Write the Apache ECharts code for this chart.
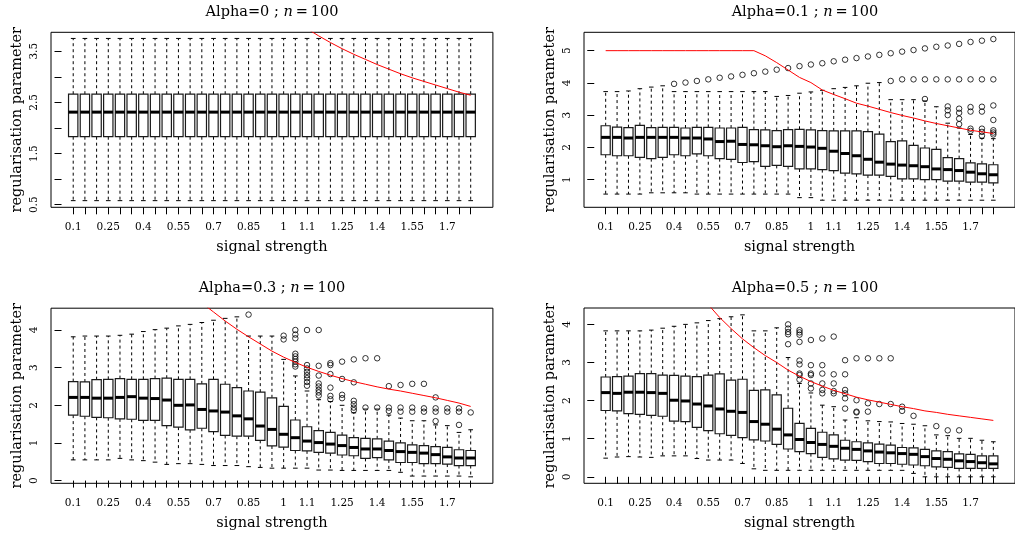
<!DOCTYPE html>
<html>
<head>
<meta charset="utf-8">
<script src="https://cdn.jsdelivr.net/npm/echarts@6/dist/echarts.min.js"></script>
<style>
  html, body { margin: 0; padding: 0; background: #fff; }
  #chart { width: 1015px; height: 540px; }
</style>
</head>
<body>
<div id="chart"></div>
<script>
// ---- data -------------------------------------------------------------
const signal = ['0.1','0.15','0.2','0.25','0.3','0.35','0.4','0.45','0.5','0.55','0.6','0.65','0.7','0.75','0.8','0.85','0.9','0.95','1','1.05','1.1','1.15','1.2','1.25','1.3','1.35','1.4','1.45','1.5','1.55','1.6','1.65','1.7','1.75','1.8'];
// positions (1-based) whose signal value is printed under the axis
const labelledTicks = [1, 4, 7, 10, 13, 16, 19, 21, 24, 27, 30, 33];
const alphas = ['0', '0.1', '0.3', '0.5'];
const sampleSize = '100';

// Alpha = 0
const aLow = [0.58,0.58,0.58,0.58,0.58,0.58,0.58,0.58,0.58,0.58,0.58,0.58,0.58,0.58,0.58,0.58,0.58,0.58,0.58,0.58,0.58,0.58,0.58,0.58,0.58,0.58,0.58,0.58,0.58,0.58,0.58,0.58,0.58,0.58,0.58];
const aQ1  = [1.83,1.83,1.83,1.83,1.83,1.83,1.83,1.83,1.83,1.83,1.83,1.83,1.83,1.83,1.83,1.83,1.83,1.83,1.83,1.83,1.83,1.83,1.83,1.83,1.83,1.83,1.83,1.83,1.83,1.83,1.83,1.83,1.83,1.83,1.83];
const aMed = [2.31,2.31,2.31,2.31,2.31,2.31,2.31,2.31,2.31,2.31,2.31,2.31,2.31,2.31,2.31,2.31,2.31,2.31,2.31,2.31,2.31,2.31,2.31,2.31,2.31,2.31,2.31,2.31,2.31,2.31,2.31,2.31,2.31,2.31,2.31];
const aQ3  = [2.66,2.66,2.66,2.66,2.66,2.66,2.66,2.66,2.66,2.66,2.66,2.66,2.66,2.66,2.66,2.66,2.66,2.66,2.66,2.66,2.66,2.66,2.66,2.66,2.66,2.66,2.66,2.66,2.66,2.66,2.66,2.66,2.66,2.66,2.66];
const aHigh = [3.75,3.75,3.75,3.75,3.75,3.75,3.75,3.75,3.75,3.75,3.75,3.75,3.75,3.75,3.75,3.75,3.75,3.75,3.75,3.75,3.75,3.75,3.75,3.75,3.75,3.75,3.75,3.75,3.75,3.75,3.75,3.75,3.75,3.75,3.75];
const aOutliers = [];
const aCurve = [null,null,null,null,null,null,null,null,null,null,null,null,null,null,null,null,null,null,null,null,3.94,3.80,3.67,3.55,3.44,3.34,3.24,3.15,3.06,2.98,2.91,2.84,2.77,2.70,2.64];

// Alpha = 0.1
const bLow = [0.55,0.55,0.55,0.55,0.59,0.59,0.59,0.59,0.55,0.55,0.55,0.55,0.55,0.55,0.55,0.55,0.55,0.44,0.44,0.36,0.36,0.36,0.36,0.36,0.36,0.36,0.36,0.36,0.36,0.36,0.36,0.36,0.36,0.36,0.36];
const bQ1  = [1.77,1.74,1.74,1.69,1.65,1.69,1.77,1.74,1.80,1.74,1.65,1.63,1.53,1.56,1.41,1.44,1.41,1.33,1.33,1.31,1.28,1.20,1.18,1.14,1.14,1.10,1.02,1.02,1.00,1.00,0.95,0.95,0.92,0.92,0.90];
const bMed = [2.31,2.31,2.29,2.31,2.31,2.31,2.31,2.29,2.29,2.26,2.18,2.19,2.09,2.08,2.05,2.02,2.05,2.03,2.01,1.97,1.88,1.81,1.74,1.63,1.54,1.48,1.45,1.43,1.40,1.33,1.31,1.28,1.23,1.18,1.15];
const bQ3  = [2.67,2.63,2.61,2.68,2.61,2.62,2.62,2.60,2.62,2.62,2.60,2.60,2.62,2.55,2.54,2.52,2.55,2.56,2.54,2.52,2.51,2.51,2.51,2.49,2.41,2.18,2.20,2.06,1.98,1.94,1.68,1.65,1.52,1.49,1.46];
const bHigh = [3.73,3.73,3.75,3.82,3.87,3.91,3.73,3.73,3.73,3.73,3.73,3.73,3.73,3.73,3.73,3.58,3.61,3.68,3.72,3.77,3.82,3.86,3.91,3.99,4.01,3.48,3.48,3.48,3.44,3.26,2.75,2.60,2.40,2.28,2.27];
const bOutliers = [
  [7,3.97],[8,4.01],[9,4.06],[10,4.11],[11,4.16],[12,4.20],[13,4.25],[14,4.30],[15,4.35],[16,4.41],
  [17,4.46],[18,4.52],[19,4.57],[20,4.61],[21,4.67],[22,4.72],[23,4.77],[24,4.82],[25,4.87],[26,4.92],
  [27,4.97],[28,5.02],[29,5.07],[30,5.12],[31,5.16],[32,5.21],[33,5.27],[34,5.31],[35,5.36],
  [26,4.06],[27,4.11],[28,4.11],[29,4.11],[30,4.11],[31,4.11],[32,4.11],[33,4.11],[34,4.11],[35,4.11],
  [29,3.50],[31,3.27],[31,3.15],[31,3.00],[32,3.20],[32,3.07],[32,2.89],[32,2.72],
  [33,3.25],[33,3.11],[33,2.58],[33,2.51],[34,3.26],[34,3.11],[34,2.58],[34,2.48],[34,2.36],
  [35,3.30],[35,2.85],[35,2.53],[35,2.46],[35,2.40]
];
const bCurve = [5,5,5,5,5,5,5,5,5,5,5,5,5,5,4.84,4.63,4.40,4.17,4.01,3.78,3.64,3.51,3.37,3.28,3.18,3.08,2.99,2.91,2.82,2.74,2.67,2.60,2.53,2.48,2.43];

// Alpha = 0.3
const cLow = [0.55,0.55,0.55,0.55,0.59,0.55,0.53,0.49,0.43,0.45,0.45,0.43,0.40,0.40,0.40,0.37,0.35,0.33,0.33,0.33,0.33,0.28,0.28,0.27,0.27,0.27,0.27,0.27,0.22,0.12,0.12,0.12,0.12,0.12,0.10];
const cQ1  = [1.74,1.71,1.68,1.67,1.64,1.63,1.60,1.60,1.46,1.42,1.35,1.39,1.30,1.20,1.18,1.18,1.07,0.92,0.89,0.80,0.79,0.75,0.73,0.68,0.66,0.59,0.61,0.55,0.48,0.48,0.45,0.45,0.44,0.40,0.40];
const cMed = [2.21,2.21,2.19,2.19,2.21,2.23,2.19,2.18,2.14,2.00,2.01,1.89,1.85,1.82,1.72,1.64,1.45,1.36,1.23,1.14,1.05,1.01,0.97,0.93,0.88,0.84,0.84,0.80,0.77,0.75,0.73,0.69,0.63,0.60,0.60];
const cQ3  = [2.63,2.62,2.68,2.69,2.71,2.69,2.69,2.71,2.72,2.69,2.69,2.57,2.69,2.56,2.47,2.38,2.35,2.20,1.97,1.61,1.43,1.33,1.28,1.21,1.14,1.12,1.11,1.05,1.00,0.95,0.93,0.90,0.88,0.82,0.80];
const cHigh = [3.82,3.84,3.84,3.84,3.86,3.89,3.96,4.01,4.05,4.11,4.15,4.20,4.26,4.31,4.35,3.84,3.84,3.84,3.22,2.78,2.38,2.15,2.10,2.00,1.80,1.90,1.90,1.74,1.66,1.59,1.59,1.48,1.46,1.28,1.35];
const cOutliers = [
  [16,4.41],[19,3.85],[19,3.75],
  [20,4.00],[20,3.88],[20,3.78],[20,3.37],[20,3.30],[20,3.23],[20,3.16],[20,3.09],[20,3.03],
  [21,4.00],[21,3.07],[21,2.98],[21,2.89],[21,2.80],[21,2.72],[21,2.62],[21,2.52],
  [22,4.00],[22,3.05],[22,2.79],[22,2.58],[22,2.50],[22,2.41],[22,2.34],[22,2.26],
  [23,3.12],[23,3.07],[23,2.83],[23,2.47],[23,2.25],[23,2.16],
  [24,3.16],[24,2.70],[24,2.28],[24,2.19],
  [25,3.22],[25,2.61],[25,2.12],[25,2.03],[25,1.94],[25,1.87],
  [26,3.25],[26,1.94],[27,3.25],[27,1.94],
  [28,2.51],[28,1.94],[28,1.85],[29,2.54],[29,1.94],[29,1.83],
  [30,2.57],[30,1.94],[30,1.83],[31,2.57],[31,1.92],[31,1.83],
  [32,2.21],[32,1.92],[32,1.83],[32,1.58],[33,1.92],[33,1.83],
  [34,1.92],[34,1.83],[34,1.48],[35,1.81]
];
const cCurve = [null,null,null,null,null,null,null,null,null,null,null,4.72,4.48,4.24,4.02,3.82,3.63,3.44,3.28,3.14,3.01,2.90,2.80,2.71,2.63,2.56,2.49,2.43,2.38,2.32,2.26,2.20,2.13,2.06,1.97];

// Alpha = 0.5
const dLow = [0.49,0.52,0.53,0.52,0.51,0.55,0.55,0.55,0.48,0.44,0.44,0.44,0.35,0.21,0.17,0.17,0.17,0.17,0.17,0.17,0.17,0.17,0.17,0.17,0.17,0.17,0.17,0.09,0.0,0.0,0.0,0.0,0.0,0.0,0.0];
const dQ1  = [1.74,1.73,1.66,1.64,1.61,1.59,1.46,1.45,1.30,1.21,1.13,1.09,1.03,0.97,0.94,0.85,0.73,0.66,0.61,0.51,0.47,0.44,0.43,0.40,0.35,0.35,0.33,0.31,0.29,0.26,0.25,0.22,0.22,0.22,0.22];
const dMed = [2.21,2.19,2.22,2.22,2.21,2.19,2.01,1.99,1.91,1.86,1.78,1.72,1.69,1.45,1.38,1.25,1.10,0.98,0.90,0.85,0.80,0.75,0.72,0.68,0.65,0.63,0.61,0.59,0.53,0.48,0.46,0.42,0.40,0.37,0.34];
const dQ3  = [2.62,2.63,2.64,2.71,2.71,2.67,2.66,2.64,2.63,2.67,2.70,2.54,2.56,2.27,2.28,2.15,1.80,1.40,1.27,1.17,1.10,0.96,0.92,0.89,0.86,0.83,0.77,0.76,0.72,0.68,0.66,0.60,0.59,0.55,0.55];
const dHigh = [3.83,3.83,3.83,3.83,3.85,3.90,3.95,4.00,4.04,4.10,4.15,4.20,4.25,3.83,3.83,3.91,3.13,2.45,2.20,1.88,1.84,1.49,1.55,1.47,1.45,1.44,1.40,1.38,1.34,1.10,1.08,1.01,1.01,0.96,0.92];
const dOutliers = [
  [17,4.00],[17,3.89],[17,3.80],[17,3.74],[17,3.48],
  [18,3.85],[18,3.79],[18,3.73],[18,3.54],[18,3.05],[18,2.95],[18,2.71],[18,2.67],[18,2.55],
  [19,3.59],[19,2.93],[19,2.71],[19,2.67],[19,2.45],[19,2.32],
  [20,3.63],[20,2.93],[20,2.71],[20,2.45],[20,2.28],[20,2.19],
  [21,3.68],[21,2.69],[21,2.45],[21,2.25],[21,2.19],
  [22,3.06],[22,2.69],[22,2.28],[22,2.19],[22,2.06],[22,1.79],
  [23,3.11],[23,2.01],[23,1.71],[23,1.69],
  [24,3.11],[24,1.93],[24,1.71],
  [25,3.11],[25,1.91],[26,3.11],[26,1.91],
  [27,1.84],[27,1.73],[28,1.60],[30,1.33],[31,1.22],[32,1.22]
];
const dCurve = [null,null,null,null,null,null,null,null,null,4.52,4.18,3.89,3.62,3.39,3.18,3.00,2.80,2.64,2.50,2.38,2.27,2.18,2.09,2.02,1.96,1.90,1.84,1.79,1.73,1.69,1.64,1.60,1.56,1.52,1.48];

// ---- layout -------------------------------------------------------------
const FONT = '"DejaVu Serif", serif';
const PLOT_W = 441.9;
const BOX_WIDTH = 0.8;          // in units of position spacing
const X_MIN = -0.9, X_MAX = 36.9; // 0.5..35.5 widened by 4% each side

const panels = [
  { left: 51,  top: 32.3, height: 175,   yMin: 0.45,  yMax: 3.87, yTicks: [0.5,1,1.5,2,2.5,3,3.5], yLabels: [0.5,1.5,2.5,3.5],
    low: aLow, q1: aQ1, med: aMed, q3: aQ3, high: aHigh, outliers: aOutliers, curve: aCurve },
  { left: 584, top: 32.3, height: 175,   yMin: 0.14,  yMax: 5.57, yTicks: [1,2,3,4,5], yLabels: [1,2,3,4,5],
    low: bLow, q1: bQ1, med: bMed, q3: bQ3, high: bHigh, outliers: bOutliers, curve: bCurve },
  { left: 51,  top: 308.2, height: 175.1, yMin: -0.072, yMax: 4.58, yTicks: [0,1,2,3,4], yLabels: [0,1,2,3,4],
    low: cLow, q1: cQ1, med: cMed, q3: cQ3, high: cHigh, outliers: cOutliers, curve: cCurve },
  { left: 584, top: 308.0, height: 175.3, yMin: -0.17, yMax: 4.43, yTicks: [0,1,2,3,4], yLabels: [0,1,2,3,4],
    low: dLow, q1: dQ1, med: dMed, q3: dQ3, high: dHigh, outliers: dOutliers, curve: dCurve }
];

const positions = signal.map((_, i) => i + 1);

// box-and-whisker glyph: dashed whiskers, solid staples, framed box, thick median
function renderBox(params, api) {
  const x = api.value(0);
  const lo = api.coord([x, api.value(1)]);
  const q1 = api.coord([x, api.value(2)]);
  const md = api.coord([x, api.value(3)]);
  const q3 = api.coord([x, api.value(4)]);
  const hi = api.coord([x, api.value(5)]);
  const w = api.size([BOX_WIDTH, 0])[0];
  const half = w / 2, cap = w / 4, cx = lo[0];
  const dashed = { stroke: '#000', lineWidth: 1, lineDash: [3, 3] };
  const solid = { stroke: '#000', lineWidth: 1 };
  return {
    type: 'group',
    children: [
      { type: 'line', shape: { x1: cx, y1: q3[1], x2: cx, y2: hi[1] }, style: dashed },
      { type: 'line', shape: { x1: cx, y1: q1[1], x2: cx, y2: lo[1] }, style: dashed },
      { type: 'line', shape: { x1: cx - cap, y1: hi[1], x2: cx + cap, y2: hi[1] }, style: solid },
      { type: 'line', shape: { x1: cx - cap, y1: lo[1], x2: cx + cap, y2: lo[1] }, style: solid },
      { type: 'rect', shape: { x: cx - half, y: q3[1], width: w, height: q1[1] - q3[1] },
        style: { fill: '#fff', stroke: '#1a1a1a', lineWidth: 1.2 } },
      { type: 'line', shape: { x1: cx - half, y1: md[1], x2: cx + half, y2: md[1] },
        style: { stroke: '#000', lineWidth: 3 } }
    ]
  };
}

const option = { animation: false, title: [], grid: [], xAxis: [], yAxis: [], series: [] };

panels.forEach((p, i) => {
  option.title.push({
    text: '{t|Alpha=' + alphas[i] + ' ; }{i|n}{t|\u2009=\u2009' + sampleSize + '}',
    left: p.left + PLOT_W / 2,
    top: p.top - 27.5,
    textAlign: 'center',
    padding: 0,
    textStyle: {
      fontWeight: 'normal',
      rich: {
        t: { fontFamily: FONT, fontSize: 14.5, fontWeight: 'normal', color: '#000' },
        i: { fontFamily: FONT, fontSize: 14.5, fontWeight: 'normal', fontStyle: 'italic', color: '#000' }
      }
    }
  });
  option.grid.push({
    left: p.left, top: p.top, width: PLOT_W, height: p.height,
    show: true, borderColor: '#000', borderWidth: 1, backgroundColor: 'transparent'
  });
  option.xAxis.push({
    gridIndex: i, type: 'value', min: X_MIN, max: X_MAX,
    axisLine: { show: false }, splitLine: { show: false },
    axisTick: { show: true, length: 7, customValues: positions, lineStyle: { color: '#000', width: 1 } },
    axisLabel: {
      customValues: labelledTicks, margin: 14,
      formatter: v => signal[Math.round(v) - 1],
      fontFamily: FONT, fontSize: 10.5, color: '#000'
    },
    name: 'signal strength', nameLocation: 'middle', nameGap: 32,
    nameTextStyle: { fontFamily: FONT, fontSize: 14.5, color: '#000' }
  });
  option.yAxis.push({
    gridIndex: i, type: 'value', min: p.yMin, max: p.yMax,
    axisLine: { show: false }, splitLine: { show: false },
    axisTick: { show: true, length: 7, customValues: p.yTicks, lineStyle: { color: '#000', width: 1 } },
    axisLabel: {
      customValues: p.yLabels, rotate: 90, margin: 11,
      fontFamily: FONT, fontSize: 10.5, color: '#000'
    },
    name: 'regularisation parameter', nameLocation: 'middle', nameGap: 26, nameRotate: 90,
    nameTextStyle: { fontFamily: FONT, fontSize: 14.5, color: '#000' }
  });
  option.series.push({
    type: 'custom', xAxisIndex: i, yAxisIndex: i, z: 2,
    renderItem: renderBox,
    encode: { x: 0, y: [1, 2, 3, 4, 5] },
    data: positions.map((x, k) => [x, p.low[k], p.q1[k], p.med[k], p.q3[k], p.high[k]])
  });
  option.series.push({
    type: 'scatter', xAxisIndex: i, yAxisIndex: i, z: 3,
    symbol: 'circle', symbolSize: 5.5,
    itemStyle: { color: 'rgba(0,0,0,0)', borderColor: '#000', borderWidth: 1 },
    data: p.outliers
  });
  option.series.push({
    type: 'line', xAxisIndex: i, yAxisIndex: i, z: 4,
    showSymbol: false, clip: true, silent: true,
    lineStyle: { color: '#ff0000', width: 1 },
    data: positions.map((x, k) => [x, p.curve[k]]).filter(d => d[1] !== null)
  });
});

const chart = echarts.init(document.getElementById('chart'), null, { renderer: 'canvas' });
chart.setOption(option);
</script>
</body>
</html>
